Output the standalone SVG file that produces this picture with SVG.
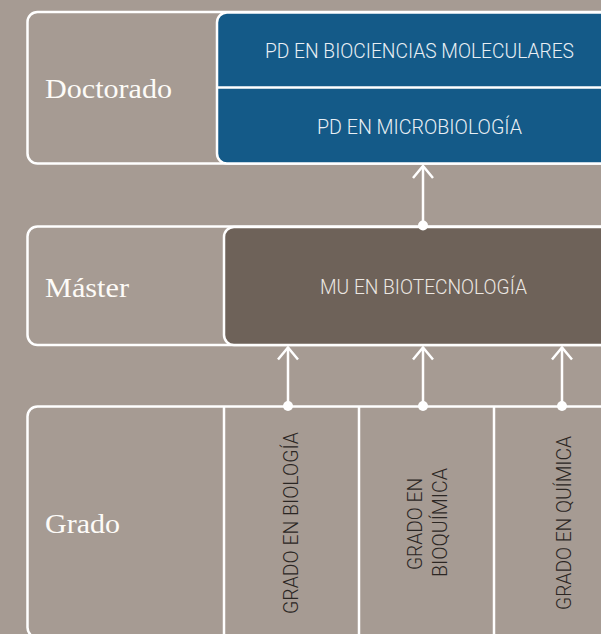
<svg xmlns="http://www.w3.org/2000/svg" width="601" height="634" viewBox="0 0 601 634">
<defs>
<style>
.frame{fill:none;stroke:#ffffff;stroke-width:2.5}
.lvl{font-family:"Liberation Serif","DejaVu Serif",serif;font-size:28px;fill:#fdfbf8}
.prog{font-family:Roboto,"Liberation Sans",sans-serif;font-size:21px;font-weight:300;text-anchor:start}
.light{fill:#e9eff4}
.lightb{fill:#ece7e2}
.dark{fill:#2b2623}
.grid{stroke:#ffffff;stroke-width:2.5;fill:none}
.conn{stroke:#ffffff;stroke-width:2.5;fill:none}
.dot{fill:#ffffff}
</style>
<marker id="arr" viewBox="-14 -12 16 24" markerWidth="16" markerHeight="24" refX="0" refY="0" orient="auto" markerUnits="userSpaceOnUse">
<path d="M-12,-10 L0,0 L-12,10" fill="none" stroke="#ffffff" stroke-width="2.5"/>
</marker>
</defs>
<rect x="0" y="0" width="601" height="634" fill="#a69b93"/>

<g id="doctorado">
<rect class="frame" x="27.5" y="12" width="620" height="151.5" rx="10"/>
<text class="lvl" x="45" y="98" textLength="127" lengthAdjust="spacingAndGlyphs">Doctorado</text>
</g>
<g id="pd-biociencias">
<rect x="217" y="12.5" width="420" height="151" rx="10" fill="#145a88" stroke="#ffffff" stroke-width="2.5"/>
<line class="grid" x1="217" y1="87.5" x2="601" y2="87.5"/>
<text class="prog light" x="265" y="58" textLength="309" lengthAdjust="spacingAndGlyphs">PD EN BIOCIENCIAS MOLECULARES</text>
</g>
<g id="pd-microbiologia">
<text class="prog light" x="317" y="134" textLength="205" lengthAdjust="spacingAndGlyphs">PD EN MICROBIOLOGÍA</text>
</g>

<g id="master">
<rect class="frame" x="27.5" y="226.5" width="620" height="118.5" rx="10"/>
<text class="lvl" x="45" y="297" textLength="84" lengthAdjust="spacingAndGlyphs">Máster</text>
</g>
<g id="mu-biotecnologia">
<rect x="224" y="227" width="420" height="118" rx="10" fill="#6e6259" stroke="#ffffff" stroke-width="2.5"/>
<text class="prog lightb" x="320" y="294" textLength="207" lengthAdjust="spacingAndGlyphs">MU EN BIOTECNOLOGÍA</text>
</g>

<g id="grado">
<rect class="frame" x="27.5" y="406.5" width="620" height="231" rx="10"/>
<line class="grid" x1="224" y1="406.5" x2="224" y2="640"/>
<line class="grid" x1="359" y1="406.5" x2="359" y2="640"/>
<line class="grid" x1="494" y1="406.5" x2="494" y2="640"/>
<text class="lvl" x="45" y="533" textLength="75" lengthAdjust="spacingAndGlyphs">Grado</text>
</g>
<g id="grado-biologia">
<text class="prog dark" transform="translate(298,614) rotate(-90)" x="0" y="0" textLength="182" lengthAdjust="spacingAndGlyphs">GRADO EN BIOLOGÍA</text>
</g>
<g id="grado-bioquimica">
<text class="prog dark" transform="translate(422,570) rotate(-90)" x="0" y="0" textLength="92" lengthAdjust="spacingAndGlyphs">GRADO EN</text>
<text class="prog dark" transform="translate(446.5,577) rotate(-90)" x="0" y="0" textLength="109" lengthAdjust="spacingAndGlyphs">BIOQUÍMICA</text>
</g>
<g id="grado-quimica">
<text class="prog dark" transform="translate(570.5,610) rotate(-90)" x="0" y="0" textLength="174" lengthAdjust="spacingAndGlyphs">GRADO EN QUÍMICA</text>
</g>

<g id="connectors">
<line class="conn" x1="288" y1="406" x2="288" y2="347.5" marker-end="url(#arr)"/>
<circle class="dot" cx="288" cy="406" r="5"/>
<line class="conn" x1="423" y1="406" x2="423" y2="347.5" marker-end="url(#arr)"/>
<circle class="dot" cx="423" cy="406" r="5"/>
<line class="conn" x1="562" y1="406" x2="562" y2="347.5" marker-end="url(#arr)"/>
<circle class="dot" cx="562" cy="406" r="5"/>
<line class="conn" x1="423" y1="225.5" x2="423" y2="166" marker-end="url(#arr)"/>
<circle class="dot" cx="423" cy="225.5" r="5"/>
</g>
</svg>
